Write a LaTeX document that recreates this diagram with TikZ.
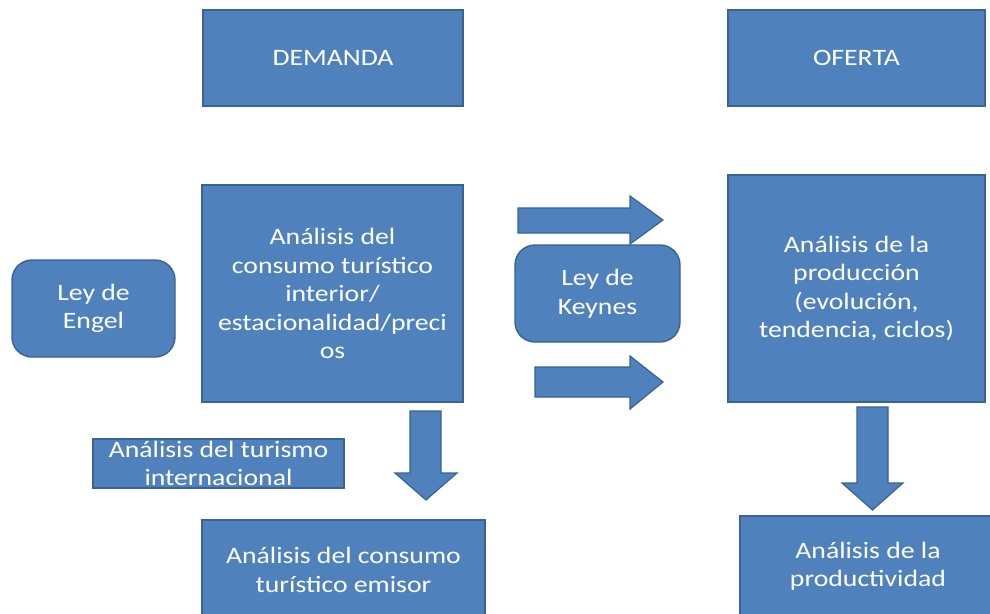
\documentclass[tikz,border=0pt]{standalone}
\usepackage{fontspec}
\setmainfont{Carlito}[FakeStretch=1.18]
\definecolor{boxfill}{HTML}{4F81BD}
\definecolor{boxline}{HTML}{3A6293}
\tikzset{
  box/.style={draw=boxline, fill=boxfill, line width=1.4pt, text=white, inner sep=0pt,
    align=center, font=\fontsize{23.5}{28.5}\selectfont},
  roundbox/.style={box, rounded corners=20pt},
  blockarrow/.style={draw=boxline, fill=boxfill, line width=1.2pt, line join=miter},
}
\begin{document}
\begin{tikzpicture}[x=1pt,y=-1pt]
\clip (0,0) rectangle (990,613);
\fill[white] (0,0) rectangle (990,613);
% top boxes
\node[box, minimum width=260pt, minimum height=96pt] (dem) at (333,58) {DEMANDA};
\node[box, minimum width=257pt, minimum height=96pt] (ofe) at (856.5,58) {OFERTA};
% main boxes
\node[box, minimum width=261pt, minimum height=217pt] (cons) at (332.5,293.5)
  {Análisis del\\consumo turístico\\interior/\\estacionalidad/preci\\os};
\node[box, minimum width=257pt, minimum height=227pt] (prod) at (856.5,288.5)
  {Análisis de la\\producción\\(evolución,\\tendencia, ciclos)};
\node[roundbox, minimum width=163pt, minimum height=97pt] (engel) at (93.5,308.5) {Ley de\\Engel};
% arrows between
\coordinate (a1s) at (518,220);
\coordinate (a1t) at (663,220);
\draw[blockarrow] (518,208) -- (630,208) -- (630,196) -- (a1t) -- (630,244) -- (630,233) -- (518,233) -- cycle;
\coordinate (a2t) at (663,382);
\draw[blockarrow] (535,367) -- (630,367) -- (630,356) -- (a2t) -- (630,409) -- (630,397) -- (535,397) -- cycle;
\node[roundbox, minimum width=165pt, minimum height=97pt] (keynes) at (597.5,293.5) {Ley de\\Keynes};
% down arrows
\coordinate (d1t) at (426,500);
\draw[blockarrow] (410,411) -- (441,411) -- (441,473) -- (457,473) -- (d1t) -- (395,473) -- (410,473) -- cycle;
\coordinate (d2t) at (872.5,510);
\draw[blockarrow] (857,407) -- (888,407) -- (888,483) -- (903,483) -- (d2t) -- (842,483) -- (857,483) -- cycle;
% bottom boxes
\node[box, minimum width=251pt, minimum height=49pt] (intl) at (218.5,463.5) {Análisis del turismo\\internacional};
\node[box, minimum width=283pt, minimum height=100pt] (emis) at (343.5,570) {Análisis del consumo\\turístico emisor};
\node[box, minimum width=256pt, minimum height=100pt] (prodv) at (868,566) {Análisis de la\\productividad};
\end{tikzpicture}
\end{document}
